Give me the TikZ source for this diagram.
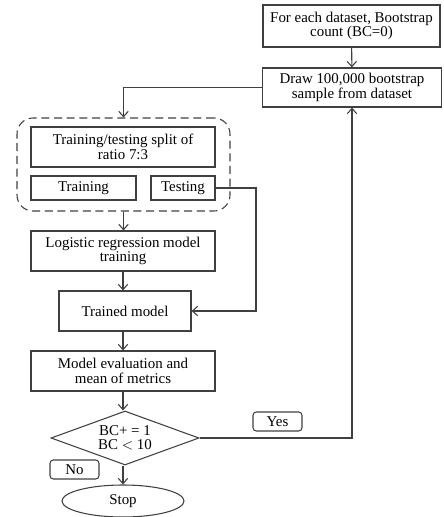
\documentclass[tikz,border=0pt]{standalone}
\usepackage{fontspec}
\setmainfont{Liberation Serif}
\usetikzlibrary{shapes.geometric,arrows.meta}
\newdimen\pxu
\pxu=0.75pt

\begin{document}
\begin{tikzpicture}[x=0.75pt,y=-0.75pt,
   line width=0.8pt, draw=black!75, >={Straight Barb[length=4pt,width=7pt]},
   every node/.style={font=\fontsize{11.2}{11}\selectfont, align=center, inner sep=0pt},
   box/.style={draw, rectangle, minimum width=184\pxu, minimum height=40\pxu},
   tag/.style={draw, rectangle, rounded corners=2.5pt, minimum width=49\pxu, minimum height=19\pxu}]
   \useasboundingbox (0,0) rectangle (443,517);
   \node[box, minimum width=177\pxu, minimum height=42\pxu] (start) at (351.5,26) {For each dataset, Bootstrap\\count (BC=0)};
   \node[box, minimum width=179\pxu, minimum height=39\pxu] (sample) at (352,87.5) {Draw 100,000 bootstrap\\sample from dataset};
   \node[draw, dash pattern=on 6pt off 3.5pt, rounded corners=12pt, minimum width=213\pxu, minimum height=93\pxu] (group) at (123.5,164.5) {};
   \node[box] (split) at (123,147) {Training/testing split of\\ratio 7:3};
   \node[box, minimum width=105\pxu, minimum height=24\pxu] (train) at (83.5,188) {Training};
   \node[box, minimum width=64\pxu, minimum height=24\pxu] (test) at (183,188) {Testing};
   \node[box] (logit) at (123,251) {Logistic regression model\\training};
   \node[box, minimum width=132\pxu] (trained) at (125,311) {Trained model};
   \node[box] (eval) at (123,371) {Model evaluation and\\mean of metrics};
   \node[draw, diamond, aspect=2.7, minimum width=148\pxu, minimum height=54\pxu] (check) at (125,438) {BC+ = 1\\BC $<$ 10};
   \node[tag] (yes) at (277.5,421.5) {Yes};
   \node[tag] (no) at (74.5,469.5) {No};
   \node[draw, ellipse, minimum width=122\pxu, minimum height=32\pxu] (stop) at (123,501) {Stop};
   \coordinate (bend) at (256,188);
   \draw[->] (start) -- (sample);
   \draw[->] (sample.west) -| (group.north);
   \draw[->] (group.south) -- (logit.north -| group.south);
   \draw[->] (logit.south) -- (logit.south |- trained.north);
   \draw[->] (trained.south -| logit.south) -- (eval.north);
   \draw[->] (eval.south) -- (eval.south |- check.north);
   \draw[->] (test.east) -- (bend) |- (trained.east);
   \draw[->] (check.east) -| (sample.south);
   \draw[->] (check.south -| eval.south) -- (stop.north);
\end{tikzpicture}
\end{document}
